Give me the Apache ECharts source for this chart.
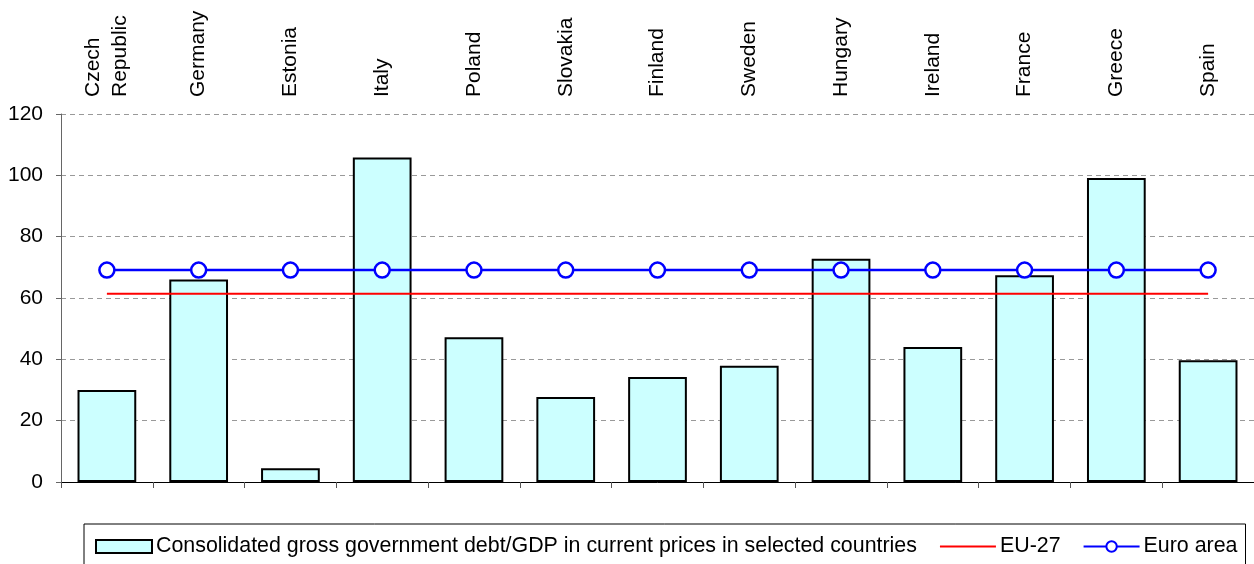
<!DOCTYPE html>
<html>
<head>
<meta charset="utf-8">
<script src="https://cdn.jsdelivr.net/npm/echarts@6/dist/echarts.min.js"></script>
<style>
  html, body { margin: 0; padding: 0; background: #fff; }
  #chart { width: 1254px; height: 564px; }
</style>
</head>
<body>
<div id="chart"></div>
<script>
// Government debt as a share of GDP, selected EU countries
const countries = ['Czech\nRepublic', 'Germany', 'Estonia', 'Italy', 'Poland', 'Slovakia',
  'Finland', 'Sweden', 'Hungary', 'Ireland', 'France', 'Greece', 'Spain'];
const debtRatio = [30, 66, 4.5, 105.8, 47.2, 27.7, 34.2, 37.9, 72.8, 44.0, 67.4, 99.1, 39.7];
const eu27 = [61.4, 61.4, 61.4, 61.4, 61.4, 61.4, 61.4, 61.4, 61.4, 61.4, 61.4, 61.4, 61.4];
const euroArea = [69.1, 69.1, 69.1, 69.1, 69.1, 69.1, 69.1, 69.1, 69.1, 69.1, 69.1, 69.1, 69.1];
const yTicks = { min: 0, max: 120, step: 20 };

const seriesNames = [
  'Consolidated gross government debt/GDP in current prices in selected countries',
  'EU-27',
  'Euro area'
];

const font = 'Liberation Sans, Arial, sans-serif';
const chart = echarts.init(document.getElementById('chart'), null, { renderer: 'canvas' });

chart.setOption({
  animation: false,
  backgroundColor: '#ffffff',
  textStyle: { fontFamily: font, color: '#000' },
  grid: { left: 61, right: -6, top: 114, bottom: 82, containLabel: false },
  legend: {
    left: 84,
    top: 524,
    padding: [12, 8, 8, 11],
    borderColor: '#000',
    borderWidth: 1,
    itemGap: 22,
    itemWidth: 56,
    itemHeight: 13,
    textStyle: { fontFamily: font, fontSize: 21.4, color: '#000', padding: [0, 0, 0, -1] },
    data: [
      { name: seriesNames[0], icon: 'rect', itemStyle: { borderWidth: 2, borderColor: '#000' } },
      { name: seriesNames[1], itemStyle: { opacity: 0 } },
      { name: seriesNames[2] }
    ]
  },
  xAxis: [
    {
      type: 'category',
      data: countries,
      position: 'bottom',
      axisLine: { lineStyle: { color: '#000', width: 1 } },
      axisTick: { show: true, length: 6, lineStyle: { color: '#555' } },
      axisLabel: { show: false }
    },
    {
      type: 'category',
      data: countries,
      position: 'top',
      axisLine: { show: false },
      axisTick: { show: false },
      axisLabel: {
        show: true,
        rotate: -90,
        margin: 17,
        fontSize: 21,
        lineHeight: 27,
        color: '#000',
        fontFamily: font
      }
    }
  ],
  yAxis: {
    type: 'value',
    min: yTicks.min,
    max: yTicks.max,
    interval: yTicks.step,
    axisLine: { show: true, lineStyle: { color: '#666', width: 1 } },
    axisTick: { show: true, length: 5, lineStyle: { color: '#666' } },
    axisLabel: { fontSize: 21, color: '#000', margin: 18, fontFamily: font },
    splitLine: { show: true, lineStyle: { color: '#999', type: [5, 4], width: 1 } }
  },
  series: [
    {
      name: seriesNames[0],
      type: 'bar',
      data: debtRatio,
      barCategoryGap: '36%',
      itemStyle: { color: '#CCFFFF', borderColor: '#000', borderWidth: 2 },
      z: 2
    },
    {
      name: seriesNames[1],
      type: 'line',
      data: eu27,
      symbol: 'none',
      lineStyle: { color: '#FF0000', width: 2 },
      itemStyle: { color: '#FF0000' },
      z: 3
    },
    {
      name: seriesNames[2],
      type: 'line',
      data: euroArea,
      symbol: 'circle',
      symbolSize: 15,
      lineStyle: { color: '#0000FF', width: 2.5 },
      itemStyle: { color: '#ffffff', borderColor: '#0000FF', borderWidth: 2.5 },
      z: 4
    }
  ]
});
</script>
</body>
</html>
